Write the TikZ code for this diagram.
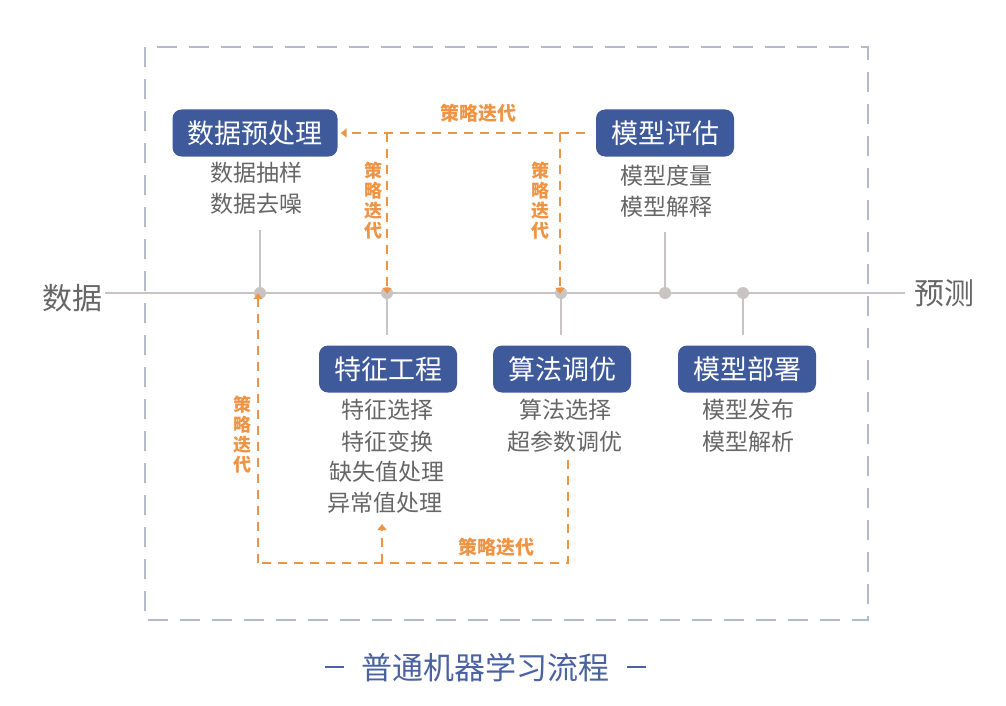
\documentclass[tikz,border=0pt]{standalone}
\usepackage{fontspec}
\newfontfamily\cjk{Noto Sans CJK SC}
\usetikzlibrary{arrows.meta}
\definecolor{boxblue}{HTML}{3F5A9B}
\definecolor{iter}{HTML}{EE9445}
\definecolor{subgray}{HTML}{666666}
\definecolor{axisgray}{HTML}{C9C3C3}
\definecolor{framegray}{HTML}{B3BBCB}
\definecolor{titleblue}{HTML}{4A62A2}
\begin{document}
\begin{tikzpicture}[x=1pt,y=-1pt,
  stagebox/.style={draw=none,fill=boxblue,rounded corners=9pt,text=white,
    font=\cjk\fontsize{27}{30}\selectfont,minimum height=47pt,inner xsep=15pt,inner ysep=0pt},
  subtext/.style={text=subgray,font=\cjk\fontsize{23}{26}\selectfont,inner sep=0pt},
  dot/.style={circle,fill=axisgray,draw=none,minimum size=12pt,inner sep=0pt},
  stem/.style={draw=axisgray,line width=2pt},
  iterline/.style={draw=iter,line width=1.4pt,dash pattern=on 9pt off 7pt},
  iterarrow/.style={iterline,-{Triangle[width=9pt,length=6pt]}},
  iterlabel/.style={text=iter,font=\cjk\bfseries\fontsize{19}{20}\selectfont,inner sep=0pt},
  iterv/.style={iterlabel,align=center,font=\cjk\bfseries\fontsize{18}{20}\selectfont},
  axislabel/.style={text=subgray,font=\cjk\fontsize{30}{32}\selectfont,inner sep=0pt}
]
\useasboundingbox (0,0) rectangle (1006,706);
\fill[white] (0,0) rectangle (1006,706);
% frame
\draw[framegray,line width=1.5pt,dash pattern=on 20pt off 12pt] (145,47) rectangle (868,620);
% axis
\node[axislabel] (data) at (72,298) {数据};
\node[axislabel] (pred) at (944,293) {预测};
\draw[stem] (105,293) -- (905,293);
\node[dot] (d1) at (260,293) {};
\node[dot] (d2) at (387,293) {};
\node[dot] (d3) at (561,293) {};
\node[dot] (d4) at (665,293) {};
\node[dot] (d5) at (743,293) {};
% boxes
\node[stagebox] (pre) at (255,133) {数据预处理};
\node[stagebox] (eval) at (665,133) {模型评估};
\node[stagebox] (feat) at (388,369) {特征工程};
\node[stagebox] (algo) at (562,369) {算法调优};
\node[stagebox] (dep) at (747,369) {模型部署};
% sub texts
\node[subtext] (pre1) at (256,173) {数据抽样};
\node[subtext] (pre2) at (256,204) {数据去噪};
\node[subtext] (ev1) at (666,176) {模型度量};
\node[subtext] (ev2) at (666,207) {模型解释};
\node[subtext] (f1) at (387,410) {特征选择};
\node[subtext] (f2) at (387,442) {特征变换};
\node[subtext] (f3) at (387,472) {缺失值处理};
\node[subtext] (f4) at (385,503) {异常值处理};
\node[subtext] (a1) at (565,410) {算法选择};
\node[subtext] (a2) at (565,442) {超参数调优};
\node[subtext] (p1) at (748,410) {模型发布};
\node[subtext] (p2) at (748,442) {模型解析};
% stems
\coordinate (s1) at (260,230);
\coordinate (s4) at (665,232);
\coordinate (s2) at (387,335);
\coordinate (s3) at (561,335);
\coordinate (s5) at (743,335);
\draw[stem] (s1) -- (d1);
\draw[stem] (s4) -- (d4);
\draw[stem] (d2) -- (s2);
\draw[stem] (d3) -- (s3);
\draw[stem] (d5) -- (s5);
% top iteration
\coordinate (tA) at (585,133);
\coordinate (tB) at (387,133);
\coordinate (tC) at (560,133);
\draw[iterarrow] (tA) -- ([xshift=3pt]pre.east |- tA);
\draw[iterarrow] (tB) -- ([yshift=-7pt]d2.north);
\draw[iterarrow] (tC) -- ([yshift=-7pt]d3.north -| tC);
\node[iterlabel] (lt) at (478,113) {策略迭代};
\node[iterv] (lv1) at (373,201) {策\\略\\迭\\代};
\node[iterv] (lv2) at (540,201) {策\\略\\迭\\代};
% bottom iteration
\coordinate (bA) at (568,460);
\coordinate (bB) at (568,563);
\coordinate (bC) at (258,563);
\coordinate (bD) at (382,563);
\draw[iterline] (bA) -- (bB) -- (bC);
\draw[iterarrow] (bC) -- ([yshift=6pt]d1.south -| bC);
\draw[iterarrow] (bD) -- (382,524);
\node[iterlabel] (lb) at (496,547) {策略迭代};
\node[iterv] (lv3) at (242,435) {策\\略\\迭\\代};
% title
\node[text=titleblue,font=\cjk\fontsize{31}{34}\selectfont,inner sep=0pt] (title) at (485,668) {普通机器学习流程};
\draw[titleblue,line width=1.6pt] (325,667) -- (344,667);
\draw[titleblue,line width=1.6pt] (627,667) -- (646,667);
\end{tikzpicture}
\end{document}
